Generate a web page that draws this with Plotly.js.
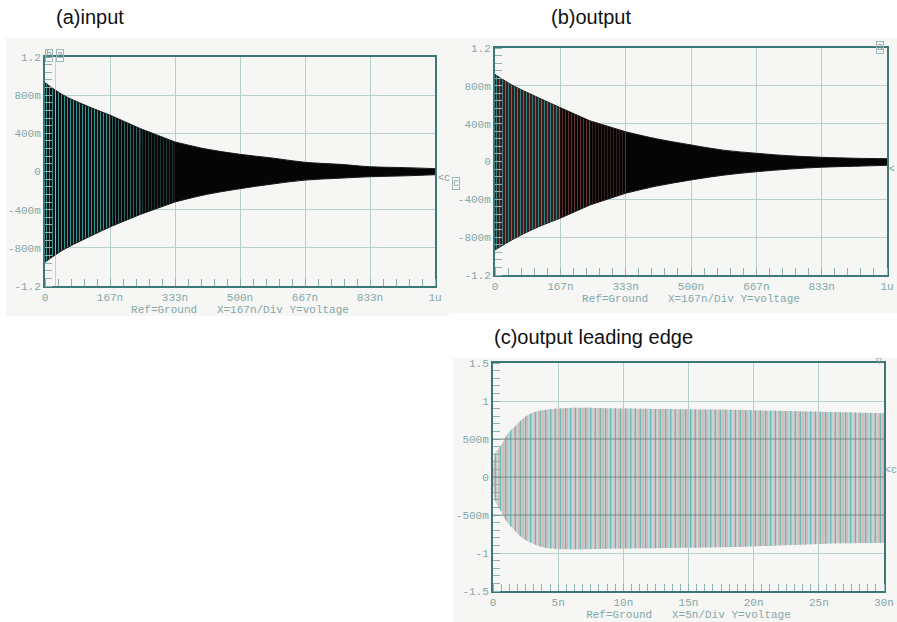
<!DOCTYPE html>
<html>
<head>
<meta charset="utf-8">
<script src="https://cdn.plot.ly/plotly-3.0.1.min.js"></script>
<style>html,body{margin:0;padding:0;background:#fff;}#chart{width:897px;height:622px;}</style>
</head>
<body>
<div id="chart"></div>
<script>
// ---------- data ----------
// (a) input: envelope of the decaying oscillation, time in ns
const timeA = [0, 47, 100, 167, 244, 333, 414, 500, 585, 667, 756, 833, 927, 1000];
const upperA = [0.93, 0.80, 0.70, 0.59, 0.45, 0.31, 0.235, 0.18, 0.14, 0.096, 0.075, 0.05, 0.04, 0.03];
const lowerA = [-0.95, -0.82, -0.71, -0.58, -0.45, -0.32, -0.24, -0.18, -0.13, -0.09, -0.07, -0.055, -0.045, -0.034];
const cursorA = [27];

// (b) output envelope
const timeB = [0, 47, 100, 166, 242, 333, 412, 500, 582, 667, 752, 833, 920, 1000];
const upperB = [0.92, 0.80, 0.695, 0.57, 0.43, 0.315, 0.24, 0.175, 0.12, 0.087, 0.06, 0.044, 0.034, 0.03];
const lowerB = [-0.935, -0.82, -0.71, -0.60, -0.46, -0.336, -0.26, -0.195, -0.145, -0.108, -0.08, -0.06, -0.05, -0.04];

// (c) output leading edge envelope, time in ns
const timeC = [0, 0.15, 0.64, 1.15, 1.66, 2.17, 2.94, 3.97, 5, 6.5, 10, 15, 19.3, 25, 28.3, 30];
const upperC = [0, 0.3, 0.42, 0.575, 0.66, 0.75, 0.84, 0.88, 0.90, 0.91, 0.90, 0.89, 0.88, 0.86, 0.846, 0.84];
const lowerC = [0, -0.3, -0.46, -0.61, -0.70, -0.79, -0.87, -0.93, -0.947, -0.95, -0.94, -0.93, -0.917, -0.88, -0.87, -0.865];

// tick labels
const xTickValsAB = [0, 166.667, 333.333, 500, 666.667, 833.333, 1000];
const xTickTextAB = ['0', '167n', '333n', '500n', '667n', '833n', '1u'];
const yTickValsAB = [-1.2, -0.8, -0.4, 0, 0.4, 0.8, 1.2];
const yTickTextAB = ['-1.2', '-800m', '-400m', '0', '400m', '800m', '1.2'];
const xTickValsC = [0, 5, 10, 15, 20, 25, 30];
const xTickTextC = ['0', '5n', '10n', '15n', '20n', '25n', '30n'];
const yTickValsC = [-1.5, -1, -0.5, 0, 0.5, 1, 1.5];
const yTickTextC = ['-1.5', '-1', '-500m', '0', '500m', '1', '1.5'];

const panelTitles = ['(a)input', '(b)output', '(c)output leading edge'];
const xTitleAB = 'Ref=Ground\u00a0\u00a0\u00a0X=167n/Div\u00a0Y=voltage';
const xTitleC = 'Ref=Ground\u00a0\u00a0\u00a0X=5n/Div\u00a0Y=voltage';

// ---------- drawing ----------
const W = 897, H = 622;
const px = x => x / W, py = y => 1 - y / H;
const mono = 'Liberation Mono, DejaVu Sans Mono, monospace';
const tickColor = '#84a8a8';
const frameColor = '#3b7775';
const gridColor = '#b7cfcf';

const traces = [];
function band(t, lo, up, i0, i1, xa, ya, pattern, edge) {
  const tt = t.slice(i0, i1 + 1), ll = lo.slice(i0, i1 + 1), uu = up.slice(i0, i1 + 1);
  traces.push({x: tt, y: ll, mode: 'lines', line: {width: edge ? 1 : 0, color: edge || 'rgba(0,0,0,0)', shape: 'spline'},
    xaxis: xa, yaxis: ya, hoverinfo: 'skip'});
  traces.push({x: tt, y: uu, mode: 'lines', line: {width: edge ? 1 : 0, color: edge || 'rgba(0,0,0,0)', shape: 'spline'},
    fill: 'tonexty', fillcolor: pattern.bgcolor, fillpattern: pattern, xaxis: xa, yaxis: ya, hoverinfo: 'skip'});
}

// (a)
band(timeA, lowerA, upperA, 0, 3, 'x', 'y', {shape: '|', bgcolor: '#080808', fgcolor: '#2f9494', size: 3, solidity: 0.38}, '#1a1a1a');
band(timeA, lowerA, upperA, 3, 4, 'x', 'y', {shape: '|', bgcolor: '#070707', fgcolor: '#226a6a', size: 3, solidity: 0.33}, '#1a1a1a');
band(timeA, lowerA, upperA, 4, 5, 'x', 'y', {shape: '|', bgcolor: '#060606', fgcolor: '#163e3e', size: 3, solidity: 0.3}, '#1a1a1a');
band(timeA, lowerA, upperA, 5, timeA.length - 1, 'x', 'y', {shape: '', bgcolor: '#050505'}, '#1a1a1a');
traces.push({x: [cursorA[0], cursorA[0]], y: [yTickValsAB[0], yTickValsAB[yTickValsAB.length - 1]], mode: 'lines',
  line: {color: 'rgba(205,180,180,0.75)', width: 1}, xaxis: 'x', yaxis: 'y', hoverinfo: 'skip'});

// (b)
band(timeB, lowerB, upperB, 0, 3, 'x2', 'y2', {shape: '|', bgcolor: '#080808', fgcolor: '#a04040', size: 2, solidity: 0.35}, '#1a1a1a');
band(timeB, lowerB, upperB, 0, 3, 'x2', 'y2', {shape: '|', bgcolor: 'rgba(0,0,0,0)', fgcolor: '#2f8c8c', size: 3, solidity: 0.3}, null);
band(timeB, lowerB, upperB, 3, 4, 'x2', 'y2', {shape: '|', bgcolor: '#070707', fgcolor: '#6a2e2e', size: 3, solidity: 0.33}, '#1a1a1a');
band(timeB, lowerB, upperB, 4, 5, 'x2', 'y2', {shape: '|', bgcolor: '#060606', fgcolor: '#3e2020', size: 3, solidity: 0.3}, '#1a1a1a');
band(timeB, lowerB, upperB, 5, timeB.length - 1, 'x2', 'y2', {shape: '', bgcolor: '#050505'}, '#1a1a1a');

// (c)
band(timeC, lowerC, upperC, 0, timeC.length - 1, 'x3', 'y3', {shape: '|', bgcolor: 'rgba(182,204,204,0.78)', fgcolor: '#e6a2a2', size: 4, solidity: 0.3}, null);
band(timeC, lowerC, upperC, 0, timeC.length - 1, 'x3', 'y3', {shape: '|', bgcolor: 'rgba(0,0,0,0)', fgcolor: '#6ab8b8', size: 5, solidity: 0.25}, null);

function xAxis(domain, anchor, range, vals, text, minorDt, title) {
  return {domain: domain, anchor: anchor, range: range, tickmode: 'array', tickvals: vals, ticktext: text,
    showgrid: true, gridcolor: gridColor, gridwidth: 1, zeroline: false, ticks: '',
    showline: true, linecolor: frameColor, linewidth: 2, mirror: true,
    tickfont: {family: mono, size: 11, color: tickColor},
    minor: {dtick: minorDt, tick0: 0, ticks: 'inside', ticklen: 7, tickcolor: '#8fb1b1', tickwidth: 1, showgrid: false},
    title: {text: title, font: {family: mono, size: 11, color: tickColor}, standoff: 2},
    fixedrange: true};
}
function yAxis(domain, anchor, range, vals, text, minorDt) {
  return {domain: domain, anchor: anchor, range: range, tickmode: 'array', tickvals: vals, ticktext: text,
    showgrid: true, gridcolor: gridColor, gridwidth: 1, zeroline: false, ticks: '',
    showline: true, linecolor: frameColor, linewidth: 2, mirror: true,
    tickfont: {family: mono, size: 11, color: tickColor},
    minor: {dtick: minorDt, tick0: 0, ticks: 'inside', ticklen: 7, tickcolor: '#8fb1b1', tickwidth: 1, showgrid: false},
    fixedrange: true};
}

const boxBg = '#f6f6f4';
const shapes = [
  {type: 'rect', xref: 'paper', yref: 'paper', x0: px(6), x1: px(449), y0: py(316), y1: py(38), fillcolor: boxBg, line: {width: 0}, layer: 'below'},
  {type: 'rect', xref: 'paper', yref: 'paper', x0: px(447), x1: px(897), y0: py(313), y1: py(38), fillcolor: boxBg, line: {width: 0}, layer: 'below'},
  {type: 'rect', xref: 'paper', yref: 'paper', x0: px(453), x1: px(897), y0: py(622), y1: py(358), fillcolor: boxBg, line: {width: 0}, layer: 'below'}
];
// gridlines of (c) that show darker over the trace
yTickValsC.filter(v => Math.abs(v) <= 0.5).forEach(v => shapes.push({
  type: 'line', xref: 'x3 domain', yref: 'y3', x0: 0, x1: 1, y0: v, y1: v,
  line: {color: 'rgba(80,100,100,0.55)', width: 1}, layer: 'above'}));

const titleFont = {family: 'Liberation Sans, Arial, sans-serif', size: 20, color: '#111'};
const markFont = {family: mono, size: 10, color: '#7a9e9e'};
const annotations = [
  {text: panelTitles[0], xref: 'paper', yref: 'paper', x: px(54), y: py(17), xanchor: 'left', yanchor: 'middle', showarrow: false, font: titleFont},
  {text: panelTitles[1], xref: 'paper', yref: 'paper', x: px(549), y: py(17), xanchor: 'left', yanchor: 'middle', showarrow: false, font: titleFont},
  {text: panelTitles[2], xref: 'paper', yref: 'paper', x: px(492), y: py(337), xanchor: 'left', yanchor: 'middle', showarrow: false, font: titleFont},
  {text: 'b', xref: 'paper', yref: 'paper', x: px(45), y: py(49), showarrow: false, font: markFont, bordercolor: '#9ab8b8', borderwidth: 1, borderpad: 0},
  {text: 'a', xref: 'paper', yref: 'paper', x: px(56), y: py(49), showarrow: false, font: markFont, bordercolor: '#9ab8b8', borderwidth: 1, borderpad: 0},
  {text: '&lt;c', xref: 'paper', yref: 'paper', x: px(436), y: py(171), xanchor: 'left', showarrow: false, font: markFont},
  {text: 'c', xref: 'paper', yref: 'paper', x: px(452), y: py(177), xanchor: 'left', showarrow: false, font: markFont, bordercolor: '#9ab8b8', borderwidth: 1, borderpad: 0},
  {text: 'a', xref: 'paper', yref: 'paper', x: px(884), y: py(41), showarrow: false, font: markFont, bordercolor: '#9ab8b8', borderwidth: 1, borderpad: 0},
  {text: '&lt;', xref: 'paper', yref: 'paper', x: px(887), y: py(162), xanchor: 'left', showarrow: false, font: markFont},
  {text: '\u25bd', xref: 'paper', yref: 'paper', x: px(884), y: py(361), showarrow: false, font: markFont},
  {text: '&lt;c', xref: 'paper', yref: 'paper', x: px(883), y: py(478), xanchor: 'left', showarrow: false, font: markFont}
];

const layout = {
  width: W, height: H, margin: {l: 0, r: 0, t: 0, b: 0},
  paper_bgcolor: '#ffffff', plot_bgcolor: 'rgba(0,0,0,0)', showlegend: false,
  xaxis: xAxis([px(45), px(435)], 'y', [0, 1000], xTickValsAB, xTickTextAB, 33.3333, xTitleAB),
  yaxis: yAxis([py(286), py(57)], 'x', [-1.2, 1.2], yTickValsAB, yTickTextAB, 0.08),
  xaxis2: xAxis([px(495), px(887)], 'y2', [0, 1000], xTickValsAB, xTickTextAB, 33.3333, xTitleAB),
  yaxis2: yAxis([py(275), py(48)], 'x2', [-1.2, 1.2], yTickValsAB, yTickTextAB, 0.08),
  xaxis3: xAxis([px(493), px(884)], 'y3', [0, 30], xTickValsC, xTickTextC, 0.625, xTitleC),
  yaxis3: yAxis([py(591), py(363)], 'x3', [-1.5, 1.5], yTickValsC, yTickTextC, 0.1),
  shapes: shapes, annotations: annotations
};

Plotly.newPlot('chart', traces, layout, {staticPlot: true, displayModeBar: false});
</script>
</body>
</html>
